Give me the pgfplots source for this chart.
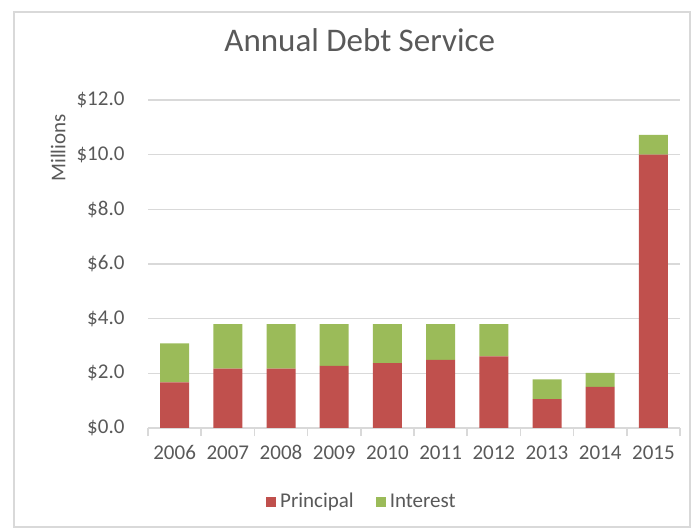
\documentclass[border=0pt]{standalone}
\usepackage{pgfplots}
\pgfplotsset{compat=1.18}
\usepackage{fontspec}
\setmainfont{Carlito}
\definecolor{cred}{HTML}{C0504D}
\definecolor{cgreen}{HTML}{9BBB59}
\definecolor{ctext}{HTML}{595959}
\definecolor{cgrid}{HTML}{D9D9D9}
\begin{document}
\begin{tikzpicture}
\path[use as bounding box] (0bp,0bp) rectangle (345.5bp,264.5bp);
\draw[cgrid, line width=0.8bp] (7bp,1bp) rectangle (345bp,258.5bp);
\begin{axis}[
  at={(74bp,50.5bp)}, anchor=south west,
  scale only axis, width=266bp, height=164bp,
  ybar stacked, bar width=14.5bp,
  ymin=0, ymax=12, xmin=-0.5, xmax=9.5,
  ytick={0,2,...,12},
  yticklabel={\$\pgfmathprintnumber[fixed,fixed zerofill,precision=1]{\tick}},
  xtick={0,...,9},
  xticklabels={2006,2007,2008,2009,2010,2011,2012,2013,2014,2015},
  minor xtick={-0.5,0.5,...,9.5},
  axis x line*=bottom, axis y line*=left,
  y axis line style={draw=none},
  x axis line style={cgrid, line width=0.8bp},
  major tick style={draw=none},
  minor x tick style={cgrid, line width=0.8bp},
  minor tick length=4bp,
  tick align=outside,
  ymajorgrids, grid style={cgrid, line width=0.8bp},
  /pgf/number format/assume math mode=true,
  tick label style={font=\fontsize{10.5bp}{12bp}\selectfont, text=ctext},
  yticklabel style={xshift=-4bp},
  xticklabel style={yshift=-1bp},
  title={Annual Debt Service},
  title style={font=\fontsize{16.5bp}{19bp}\selectfont, text=ctext, at={(axis description cs:0.398,1.145)}, anchor=center},
  ylabel={Millions},
  ylabel style={font=\fontsize{10.5bp}{12bp}\selectfont, text=ctext, at={(axis description cs:-0.169,0.854)}, anchor=center},
  legend style={at={(axis description cs:0.404,-0.2256)}, anchor=center, draw=none,
    font=\fontsize{10.5bp}{12bp}\selectfont, text=ctext, legend columns=2,
    /tikz/every even column/.append style={column sep=9bp}},
  legend image code/.code={\fill[#1] (0bp,-2.5bp) rectangle (5bp,2.5bp);},
]
\addplot[fill=cred, draw=none] coordinates {(0,1.67) (1,2.17) (2,2.17) (3,2.27) (4,2.37) (5,2.49) (6,2.62) (7,1.06) (8,1.50) (9,10.0)};
\addplot[fill=cgreen, draw=none] coordinates {(0,1.43) (1,1.63) (2,1.63) (3,1.53) (4,1.43) (5,1.31) (6,1.18) (7,0.72) (8,0.52) (9,0.72)};
\legend{Principal,Interest}
\end{axis}
\end{tikzpicture}
\end{document}
